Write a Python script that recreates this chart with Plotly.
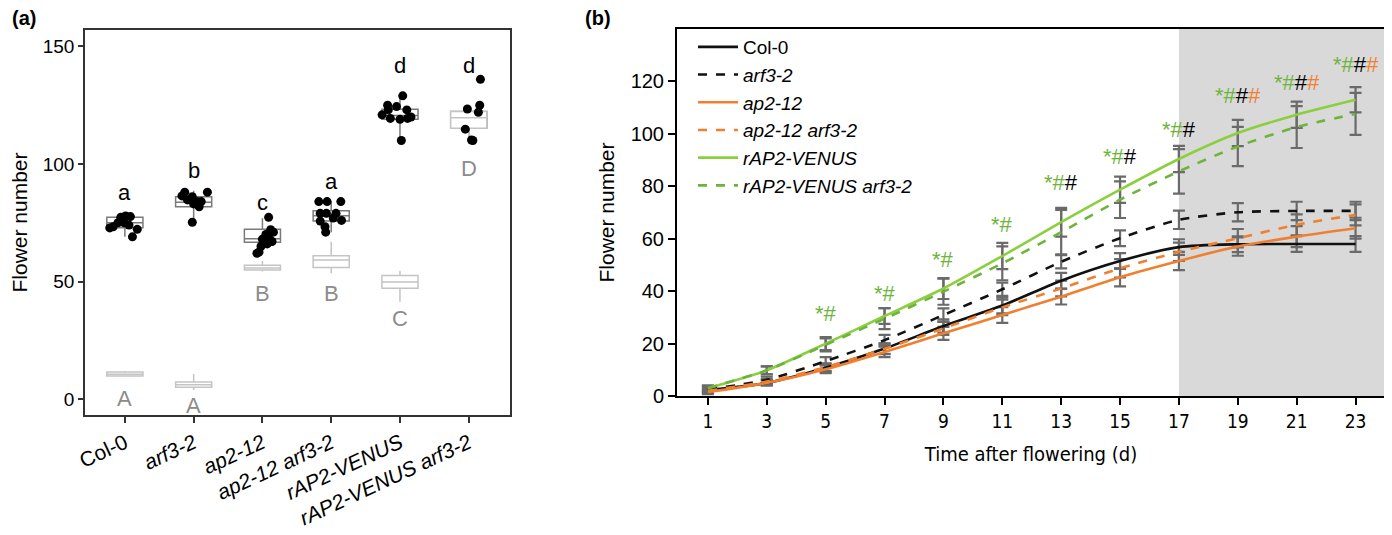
import plotly.graph_objects as go

# ---- panel (a): flower number per genotype ----
genotypes = ['Col-0', 'arf3-2', 'ap2-12', 'ap2-12 arf3-2', 'rAP2-VENUS', 'rAP2-VENUS arf3-2']
geno_labels = ['Col-0', '<i>arf3-2</i>', '<i>ap2-12</i>', '<i>ap2-12 arf3-2</i>',
               '<i>rAP2-VENUS</i>', '<i>rAP2-VENUS arf3-2</i>']

# first experiment (black points, lowercase letters)
box1_q1 = [72.9, 81.8, 66.7, 75.7, 119.0, 115.2]
box1_med = [75.0, 83.7, 68.2, 78.0, 120.6, 119.7]
box1_q3 = [77.3, 86.1, 72.2, 80.1, 123.3, 122.3]
box1_lo = [69.0, 75.2, 62.0, 71.0, 110.0, 110.0]
box1_hi = [79.0, 88.6, 76.9, 84.0, 128.6, 125.0]

pts_values = [
    [73.3, 75.0, 77.3, 77.9, 77.6, 75.0, 74.0, 69.0, 72.2, 72.8],
    [86.4, 84.7, 86.1, 83.0, 84.0, 81.8, 88.0, 88.0, 75.2, 84.0],
    [77.3, 72.0, 71.0, 70.0, 68.0, 68.0, 67.0, 66.0, 65.0, 62.5, 62.0],
    [84.0, 84.0, 84.0, 79.0, 79.0, 79.0, 75.7, 73.3, 71.0, 76.0, 77.0],
    [129.0, 125.0, 124.4, 123.0, 123.0, 119.4, 119.0, 120.0, 120.9, 119.4, 110.0],
    [136.0, 125.0, 123.4, 122.0, 114.8, 110.2, 110.0],
]
pts_jitter = [
    [-0.17, -0.10, -0.06, 0.01, 0.08, -0.01, 0.06, 0.11, 0.18, -0.22],
    [-0.17, -0.09, -0.02, 0.00, 0.05, 0.08, 0.20, -0.13, -0.02, 0.11],
    [0.09, 0.12, 0.16, 0.05, 0.00, 0.10, 0.14, 0.07, -0.02, -0.05, -0.08],
    [-0.18, -0.06, 0.14, -0.16, -0.07, 0.07, -0.16, -0.09, -0.08, 0.15, 0.03],
    [0.04, -0.18, -0.05, 0.10, -0.17, -0.14, 0.00, 0.16, -0.26, 0.11, 0.02],
    [0.17, 0.16, -0.02, 0.14, -0.05, 0.04, 0.06],
]
letters1 = ['a', 'b', 'c', 'a', 'd', 'd']
letters1_y = [87.8, 97.4, 83.5, 92.5, 141.7, 141.7]

# second experiment (grey boxes, uppercase letters)
box2_q1 = [9.8, 5.0, 54.9, 56.0, 47.1, 115.2]
box2_med = [10.5, 6.1, 55.7, 59.1, 49.8, 119.7]
box2_q3 = [11.5, 7.2, 56.9, 61.0, 52.5, 122.3]
box2_lo = [9.5, 3.8, 54.3, 53.5, 41.4, 110.0]
box2_hi = [11.9, 10.6, 58.7, 66.9, 54.6, 125.0]
letters2 = ['A', 'A', 'B', 'B', 'C', 'D']
letters2_y = [0.3, -2.6, 45.0, 45.0, 34.3, 98.2]

# ---- panel (b): flower number over time ----
days = [1, 3, 5, 7, 9, 11, 13, 15, 17, 19, 21, 23]
series_names = ['Col-0', '<i>arf3-2</i>', '<i>ap2-12</i>', '<i>ap2-12 arf3-2</i>',
                '<i>rAP2-VENUS</i>', '<i>rAP2-VENUS arf3-2</i>']
col0 = [2.2, 5.0, 10.8, 18.1, 26.7, 34.5, 44.0, 51.5, 56.8, 57.9, 58.0, 58.0]
col0_err = [1.0, 1.0, 1.5, 2.0, 2.5, 3.0, 3.0, 3.0, 3.0, 3.0, 3.0, 3.0]
arf3 = [2.5, 6.2, 13.3, 21.3, 30.9, 40.7, 51.2, 60.2, 67.2, 70.1, 70.6, 70.6]
arf3_err = [1.0, 1.2, 1.5, 2.0, 2.5, 2.5, 2.5, 3.0, 3.5, 3.5, 3.5, 3.5]
ap2 = [1.5, 5.0, 10.2, 16.8, 23.9, 30.9, 37.9, 45.3, 51.5, 57.0, 60.8, 64.0]
ap2_err = [0.8, 1.0, 1.5, 2.0, 2.5, 3.0, 3.0, 3.5, 3.5, 3.5, 4.0, 4.0]
ap2arf3 = [2.0, 5.5, 11.0, 18.0, 25.8, 33.8, 41.0, 48.7, 55.0, 60.2, 65.3, 69.1]
ap2arf3_err = [0.8, 1.0, 1.5, 2.0, 2.5, 3.0, 3.0, 3.5, 3.5, 3.5, 4.0, 4.0]
venus = [3.0, 9.8, 20.0, 30.5, 41.0, 53.4, 66.3, 78.7, 90.4, 100.3, 107.3, 113.0]
venus_err = [1.0, 1.5, 2.5, 3.0, 4.0, 5.0, 5.5, 5.0, 5.0, 5.0, 5.0, 4.8]
venusarf3 = [3.0, 9.8, 19.5, 29.5, 39.8, 50.6, 62.5, 74.9, 85.7, 95.2, 102.6, 107.6]
venusarf3_err = [1.0, 1.5, 2.5, 4.0, 5.0, 6.5, 8.5, 7.0, 8.5, 7.5, 8.0, 8.0]

sig_days = [5, 7, 9, 11, 13, 15, 17, 19, 21, 23]
sig_y = [31.5, 39.2, 51.9, 65.6, 81.3, 91.2, 101.6, 114.6, 119.7, 126.5]
sig_black = [False, False, False, False, True, True, True, True, True, True]
sig_orange = [False, False, False, False, False, False, False, True, True, True]
shade_from = 17

BLACK = '#111111'
ORANGE = '#f08030'
GREEN = '#8ccf3e'
GREEN2 = '#6cb43a'
ERR = '#6a6a6a'
FONT = 'Liberation Sans, Arial, sans-serif'
NARROW = 'Liberation Sans Narrow, DejaVu Sans Condensed, Liberation Sans, Arial, sans-serif'

# page body keeps its default 8px margin, so the figure is sized to fit inside it
W, H = 1384, 527

fig = go.Figure()

# boxes, experiment 1 then experiment 2 on top
for i in range(len(genotypes)):
    fig.add_trace(go.Box(x=[i], q1=[box1_q1[i]], median=[box1_med[i]], q3=[box1_q3[i]],
                         lowerfence=[box1_lo[i]], upperfence=[box1_hi[i]],
                         line=dict(color='#7a7a7a', width=1.5), fillcolor='white',
                         whiskerwidth=0, showlegend=False, hoverinfo='skip',
                         xaxis='x', yaxis='y'))
for i in range(len(genotypes)):
    fig.add_trace(go.Box(x=[i], q1=[box2_q1[i]], median=[box2_med[i]], q3=[box2_q3[i]],
                         lowerfence=[box2_lo[i]], upperfence=[box2_hi[i]],
                         line=dict(color='#c4c4c4', width=1.5), fillcolor='white',
                         whiskerwidth=0, showlegend=False, hoverinfo='skip',
                         xaxis='x', yaxis='y'))
for i in range(len(genotypes)):
    fig.add_trace(go.Scatter(x=[i + j for j in pts_jitter[i]], y=pts_values[i], mode='markers',
                             marker=dict(color='black', size=9), showlegend=False,
                             xaxis='x', yaxis='y'))

# panel (b) lines
lines_b = [
    (col0, col0_err, BLACK, 'solid'),
    (arf3, arf3_err, BLACK, 'dash'),
    (ap2, ap2_err, ORANGE, 'solid'),
    (ap2arf3, ap2arf3_err, ORANGE, 'dash'),
    (venus, venus_err, GREEN, 'solid'),
    (venusarf3, venusarf3_err, GREEN2, 'dash'),
]
for (vals, err, col, dash), name in zip(lines_b, series_names):
    fig.add_trace(go.Scatter(x=days, y=vals, mode='markers', marker=dict(size=0.1, color=ERR),
                             error_y=dict(type='data', array=err, color=ERR, thickness=2.2, width=6),
                             showlegend=False, hoverinfo='skip', xaxis='x2', yaxis='y2'))
for (vals, err, col, dash), name in zip(lines_b, series_names):
    fig.add_trace(go.Scatter(x=days, y=vals, mode='lines', name=name, line_shape='spline',
                             line=dict(color=col, width=2.6, dash=dash, smoothing=0.7),
                             xaxis='x2', yaxis='y2'))

annotations = []
for i, g in enumerate(genotypes):
    annotations.append(dict(x=i, y=letters1_y[i], xref='x', yref='y', text=letters1[i],
                            showarrow=False, font=dict(size=22, color='black', family=FONT)))
    annotations.append(dict(x=i, y=letters2_y[i], xref='x', yref='y', text=letters2[i],
                            showarrow=False, font=dict(size=22, color='#8c8c8c', family=FONT)))

for d, y, b, o in zip(sig_days, sig_y, sig_black, sig_orange):
    txt = '<span style="color:%s">*#</span>' % GREEN2
    if b:
        txt += '<span style="color:black">#</span>'
    if o:
        txt += '<span style="color:%s">#</span>' % ORANGE
    annotations.append(dict(x=d, y=y, xref='x2', yref='y2', text=txt, showarrow=False,
                            font=dict(size=22, family=FONT)))

annotations.append(dict(x=2 / W, y=1 - 10 / H, xref='paper', yref='paper', text='<b>(a)</b>',
                        showarrow=False, xanchor='left', yanchor='middle',
                        font=dict(size=20, color='black', family=FONT)))
annotations.append(dict(x=575 / W, y=1 - 10 / H, xref='paper', yref='paper', text='<b>(b)</b>',
                        showarrow=False, xanchor='left', yanchor='middle',
                        font=dict(size=20, color='black', family=FONT)))

fig.update_layout(
    width=W, height=H,
    margin=dict(l=0, r=0, t=0, b=0, autoexpand=False),
    paper_bgcolor='white', plot_bgcolor='white',
    font=dict(family=FONT, size=18, color='black'),
    boxmode='overlay', boxgap=0.25,
    annotations=annotations,
    shapes=[dict(type='rect', xref='x2', yref='y2', x0=shade_from, x1=24,
                 y0=0, y1=140, fillcolor='#d9d9d9',
                 line=dict(width=0), layer='below')],
    xaxis=dict(domain=[77 / W, 502 / W], range=[-0.58, 5.6], anchor='y',
               tickvals=list(range(len(genotypes))), ticktext=geno_labels, tickangle=-25,
               showgrid=False, zeroline=False, showline=True, mirror=True, automargin=False,
               linecolor='#333333', linewidth=1.5, ticks='outside', ticklen=6,
               tickcolor='#333333', tickwidth=1.5, tickfont=dict(size=21)),
    yaxis=dict(domain=[1 - 407 / H, 1 - 22 / H], range=[-6.8, 157], anchor='x',
               tickvals=[0, 50, 100, 150], showgrid=False, zeroline=False, showline=True,
               mirror=True, linecolor='#333333', linewidth=1.5, ticks='outside', ticklen=5,
               tickcolor='#333333', tickwidth=1.5, tickfont=dict(size=19), automargin=False,
               title=dict(text='Flower number', font=dict(size=21), standoff=10)),
    xaxis2=dict(domain=[669 / W, 1377 / W], range=[-0.05, 24], anchor='y2',
                tickvals=days, showgrid=False, zeroline=False, showline=True, mirror=True,
                linecolor='black', linewidth=2, ticks='outside', ticklen=7, tickwidth=1.5,
                tickcolor='black', tickfont=dict(size=19, family=NARROW), automargin=False,
                title=dict(text='Time after flowering (d)', font=dict(size=20, family=NARROW),
                           standoff=16)),
    yaxis2=dict(domain=[1 - 388 / H, 1 - 21 / H], range=[0, 140], anchor='x2',
                tickvals=[0, 20, 40, 60, 80, 100, 120], showgrid=False, zeroline=False,
                showline=True, mirror=True, linecolor='black', linewidth=2, ticks='outside',
                ticklen=7, tickwidth=1.5, tickcolor='black', tickfont=dict(size=20),
                automargin=False,
                title=dict(text='Flower number', font=dict(size=21), standoff=10)),
    legend=dict(x=685 / W, y=1 - 20 / H, xanchor='left', yanchor='top', bgcolor='rgba(0,0,0,0)',
                font=dict(size=19), itemwidth=40, tracegroupgap=0),
)

fig.write_html("out.html")
